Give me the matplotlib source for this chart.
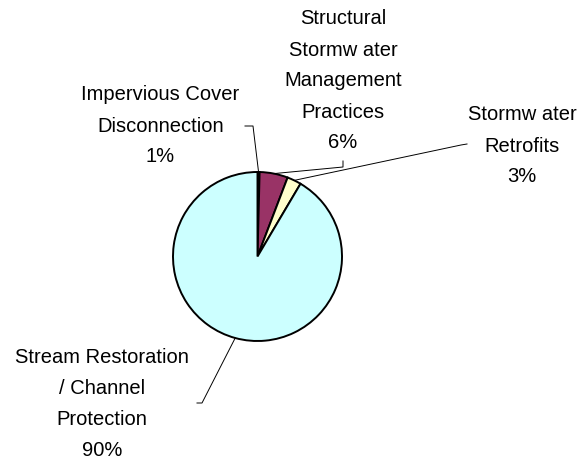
import numpy as np
import matplotlib
matplotlib.use("Agg")
import matplotlib.pyplot as plt

# ---- data ----
categories = ["Impervious Cover\nDisconnection",
              "Structural\nStormw ater\nManagement\nPractices",
              "Stormw ater\nRetrofits",
              "Stream Restoration\n/ Channel\nProtection"]
shares = [0.4, 5.4, 2.7, 91.5]          # slice sizes
pct_labels = ["1%", "6%", "3%", "90%"]  # percentages printed on chart
colors = ["#000040", "#993366", "#FFFFCC", "#CCFFFF"]

W, H = 581, 460
fig = plt.figure(figsize=(W / 100, H / 100), dpi=100)
ax = fig.add_axes([0, 0, 1, 1])

cx, cy, r = 257.5, H - 257.5, 84.5
wedges, _ = ax.pie(shares, colors=colors, startangle=90, counterclock=False,
                   center=(cx, cy), radius=r, frame=True,
                   wedgeprops=dict(edgecolor="black", linewidth=1.4))
ax.set_xlim(0, W)
ax.set_ylim(0, H)
ax.set_aspect("equal")
ax.axis("off")

# label layout (pixel positions, y measured from top)
label_pos = [(160.5, 126), (343, 81), (522, 146), (102, 404)]
leader_pts = [  # elbow points then end point (pixel coords from top)
    [(253, 127), (245, 127)],
    [(343, 168), (343, 162)],
    [(461, 146), (467, 145)],
    [(202, 404), (197, 404)],
]

font = dict(family=["Liberation Sans", "DejaVu Sans"], size=14.5)
for i, w in enumerate(wedges):
    mid = np.deg2rad((w.theta1 + w.theta2) / 2)
    px, py = cx + r * np.cos(mid), cy + r * np.sin(mid)
    xs = [px] + [p[0] for p in leader_pts[i]]
    ys = [py] + [H - p[1] for p in leader_pts[i]]
    ax.plot(xs, ys, color="black", linewidth=0.7)
    lx, ly = label_pos[i]
    ax.text(lx, H - ly, categories[i] + "\n" + pct_labels[i],
            ha="center", va="center", multialignment="center",
            linespacing=1.8, color="black", **font)

fig.savefig("out.png", dpi=100)
